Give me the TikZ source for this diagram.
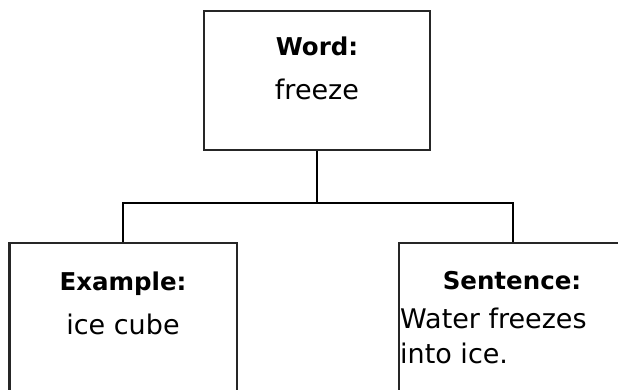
\documentclass[tikz,border=0pt]{standalone}
\usepackage{fontspec}
\setmainfont{DejaVu Sans}
\begin{document}
\begin{tikzpicture}[x=1pt,y=1pt,
  box/.style={draw=black!85, line width=2.4pt, rectangle, inner sep=0pt, fill=white},
  conn/.style={draw=black, line width=2.4pt},
  head/.style={anchor=base, font=\fontsize{24.5}{28}\selectfont\bfseries, inner sep=0pt},
  body/.style={anchor=base, font=\fontsize{27}{31}\selectfont, inner sep=0pt}]
\useasboundingbox (0,0) rectangle (618,-389);
\clip (0,0) rectangle (618,-389);
\fill[white] (0,0) rectangle (618,-389);
% boxes
\node[box, minimum width=226pt, minimum height=139pt] (top) at (317,-80.5) {};
\node[box, minimum width=227.5pt, minimum height=177pt] (left) at (123.25,-331.5) {};
\node[box, minimum width=251pt, minimum height=177pt] (right) at (524.5,-331.5) {};
% connectors
\coordinate (j) at (317,-203);
\coordinate (jr) at (513,-203);
\draw[conn] (top.south) -- (j);
\draw[conn] (left.north) |- (jr) -- (jr |- right.north);
% texts
\node[head] (tw) at (317,-55) {Word:};
\node[body] (tf) at (317,-99) {freeze};
\node[head] (te) at (123,-290) {Example:};
\node[body] (ti) at (123,-334) {ice cube};
\node[head] (ts) at (512,-289) {Sentence:};
\node[body, anchor=base west] (tw1) at (400,-328) {Water freezes};
\node[body, anchor=base west] (tw2) at (400,-363) {into ice.};
\end{tikzpicture}
\end{document}
